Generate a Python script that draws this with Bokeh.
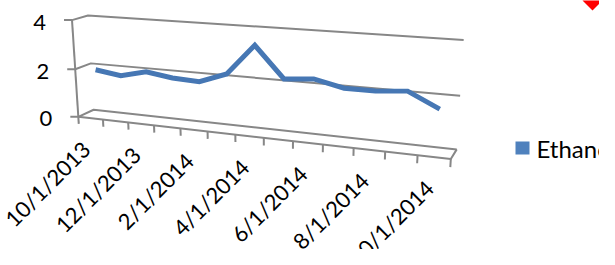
import numpy as np
from bokeh.plotting import figure
from bokeh.models import Range1d
from bokeh.core.properties import value
from bokeh.embed import file_html
from bokeh.resources import INLINE

# ---------------- data ----------------
months = ["10/1/2013", "11/1/2013", "12/1/2013", "1/1/2014", "2/1/2014",
          "3/1/2014", "4/1/2014", "5/1/2014", "6/1/2014", "7/1/2014",
          "8/1/2014", "9/1/2014", "10/1/2014"]
ethanol = [1.9, 1.75, 2.0, 1.85, 1.8, 2.2, 3.4, 2.2, 2.3, 2.05, 2.05, 2.15, 1.6]
y_ticks = [0, 2, 4]
x_labels = months[::2]
series_name = "Ethanol"

# ---------------- 3-D view (projected box corners: category slot t, value v, depth z) ----------------
N = len(months)
VMAX = 4
anchors = [
    ((0, 0, 0), (78, 117)), ((0, 2, 0), (75, 67.5)), ((0, 4, 0), (71, 20)),
    ((0, 0, 1), (93, 109)), ((0, 2, 1), (90, 62)), ((0, 4, 1), (88, 15)),
    ((N, 0, 1), (456, 149)), ((N, 2, 1), (460, 96)), ((N, 4, 1), (463, 40)),
    ((N, 0, 0), (451, 158)),
]
tick_px = [103, 128, 153, 180, 207, 235, 263, 292, 322, 353, 385, 417]
for k, xp in enumerate(tick_px, start=1):
    anchors.append(((k, 0, 0), (xp, 117 + (xp - 78) * 41 / 373)))

A, b = [], []
for (X, Y, Z), (u, w) in anchors:
    A.append([X, Y, Z, 1, 0, 0, 0, 0, -u * X, -u * Y, -u * Z]); b.append(u)
    A.append([0, 0, 0, 0, X, Y, Z, 1, -w * X, -w * Y, -w * Z]); b.append(w)
P = np.append(np.linalg.lstsq(np.array(A, float), np.array(b, float), rcond=None)[0], 1.0).reshape(3, 4)


def proj(t, v, z):
    t, v, z = np.broadcast_arrays(np.asarray(t, float), np.asarray(v, float), np.asarray(z, float))
    h = P @ np.vstack([t.ravel(), v.ravel(), z.ravel(), np.ones(t.size)])
    return h[0] / h[2], h[1] / h[2]


W, H = 599, 249
p = figure(width=W, height=H, x_range=Range1d(0, W), y_range=Range1d(H, 0),
           output_backend="svg", toolbar_location=None,
           x_axis_type=None, y_axis_type=None, min_border=0)
p.min_border_left = p.min_border_right = p.min_border_top = p.min_border_bottom = 0
p.outline_line_color = None
p.background_fill_color = "white"
p.border_fill_color = "white"

GRID = "#878787"
GW = 2
FONT = value("Lato")

# back wall + side wall gridlines
for v in y_ticks:
    x0, y0 = proj([0, 0, N], [v, v, v], [0, 1, 1])
    p.line(x0, y0, line_color=GRID, line_width=GW)
# floor
fx, fy = proj([0, N, N], [0, 0, 0], [0, 0, 1])
p.line(fx, fy, line_color=GRID, line_width=GW)
# front-left vertical edge
vx, vy = proj([0, 0], [0, VMAX], [0, 0])
p.line(vx, vy, line_color=GRID, line_width=GW)
# category ticks
ks = np.arange(N + 1)
tx0, ty0 = proj(ks, 0, 0)
tx1, ty1 = proj(ks, -0.3, 0)
p.segment(tx0, ty0, tx1, ty1, line_color=GRID, line_width=GW)
# value ticks + labels
yx, yy = proj(np.zeros(len(y_ticks)), y_ticks, 0)
p.segment(yx, yy, yx - 8, yy, line_color=GRID, line_width=GW)
p.text(yx - 26, yy + 2, text=[str(v) for v in y_ticks], text_align="right",
       text_baseline="middle", text_font=FONT, text_font_size="22px", text_color="black")

# series ribbon
sx, sy = proj(np.arange(N) + 0.5, ethanol, 0.5)
p.line(sx, sy, line_color="#4677B4", line_width=5, line_join="miter")

# category labels
li = np.arange(0, N, 2)
lx, ly = proj(li + 0.5, 0, 0)
p.text(lx - 4.5, ly + 27, text=x_labels, angle=np.pi / 4, text_align="right",
       text_baseline="middle", text_font=FONT, text_font_size="22px", text_color="black")

# legend
p.quad(left=[515], right=[529], top=[141], bottom=[154], fill_color="#4F81BD", line_color=None)
p.text([536], [148], text=[series_name], text_align="left", text_baseline="middle",
       text_font=FONT, text_font_size="24px", text_color="black")

# red marker (top-right corner)
p.patch([592, 602, 592, 582], [-10, 0, 10, 0], fill_color="#FF0000", line_color=None)

open("out.html", "w").write(file_html(p, INLINE))
